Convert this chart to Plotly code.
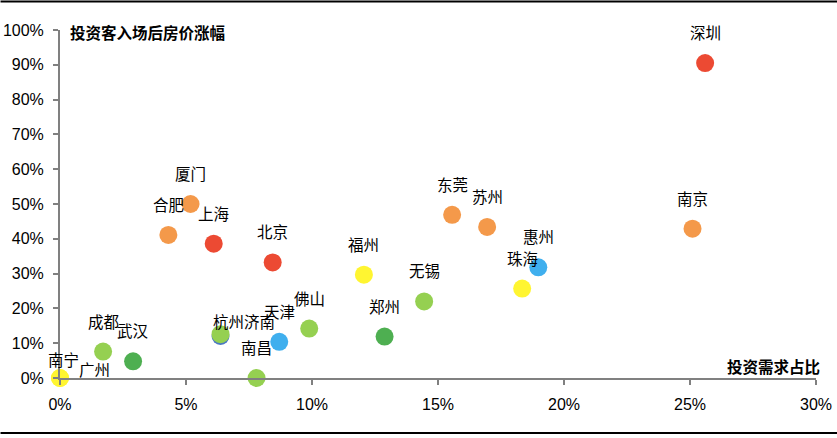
import plotly.graph_objects as go

cities = ["广州", "南宁", "深圳", "厦门", "合肥", "上海", "北京", "福州", "无锡", "郑州", "佛山", "天津",
          "南昌", "杭州", "济南", "成都", "武汉", "东莞", "苏州", "南京", "惠州", "珠海"]
invest_share = [0.0, 0.0, 25.6, 5.18, 4.3, 6.1, 8.44, 12.06, 14.45, 12.88, 9.89, 8.7,
                7.8, 6.37, 6.37, 1.71, 2.9, 15.56, 16.95, 25.1, 18.98, 18.34]
price_rise = [0.0, 0.0, 90.5, 50.0, 41.1, 38.6, 33.2, 29.7, 22.0, 11.9, 14.2, 10.4,
              0.0, 12.1, 12.6, 7.6, 4.8, 46.9, 43.4, 42.9, 31.8, 25.7]
groups = ["yellow", "yellow", "red", "orange", "orange", "red", "red", "yellow", "lgreen", "dgreen", "lgreen", "blue",
          "lgreen", "dblue", "lgreen", "lgreen", "dgreen", "orange", "orange", "orange", "blue", "yellow"]
x_ticks = [0, 5, 10, 15, 20, 25, 30]
y_ticks = [0, 10, 20, 30, 40, 50, 60, 70, 80, 90, 100]
y_title = "投资客入场后房价涨幅"
x_title = "投资需求占比"

palette = {"red": "#EC4A33", "orange": "#F4994A", "yellow": "#FFF531", "lgreen": "#95D051",
           "dgreen": "#4EAF51", "blue": "#3FAFEE", "dblue": "#4A78C2"}
# label offsets in pixels (dx, dy) relative to point
offsets = {"广州": (34, 9), "南宁": (3, 19)}

fig = go.Figure()
fig.add_trace(go.Scatter(
    x=[v / 100 for v in invest_share],
    y=[v / 100 for v in price_rise],
    mode="markers",
    marker=dict(size=18, color=[palette[g] for g in groups], line=dict(width=0)),
    cliponaxis=False,
    hoverinfo="skip",
    showlegend=False,
))

cjk = "Noto Sans CJK SC"
for c, xv, yv in zip(cities, invest_share, price_rise):
    if c == "济南":
        continue
    if c == "杭州":
        text = "杭州济南"
        dx, dy = 23, 15
    else:
        text = c
        dx, dy = offsets.get(c, (0, 31))
    fig.add_annotation(x=xv / 100, y=yv / 100, text=text, showarrow=False,
                       xshift=dx, yshift=dy, font=dict(family=cjk, size=15.5, color="#000000"))

fig.add_annotation(x=0, y=1, xref="paper", yref="paper", text="<b>" + y_title + "</b>",
                   showarrow=False, xanchor="left", yanchor="middle", xshift=8, yshift=-2,
                   font=dict(family=cjk, size=15.5, color="#000000"))
fig.add_annotation(x=1, y=0, xref="paper", yref="paper", text="<b>" + x_title + "</b>",
                   showarrow=False, xanchor="right", yanchor="middle", xshift=6, yshift=12,
                   font=dict(family=cjk, size=15.5, color="#000000"))

W, H = 837, 438
ml, mr, mt, mb = 59.5, 21.3, 30, 59.7
pw, ph = W - ml - mr, H - mt - mb
for py in (1.5, 433.3):
    yp = (H - mb - py) / ph
    fig.add_shape(type="line", xref="paper", yref="paper", x0=-ml / pw, x1=(W - ml) / pw,
                  y0=yp, y1=yp, line=dict(color="#000000", width=2))

fig.update_layout(
    width=W, height=H,
    margin=dict(l=ml, r=mr, t=mt, b=mb, pad=0, autoexpand=False),
    plot_bgcolor="white", paper_bgcolor="white",
    font=dict(family="Liberation Sans, Arial", size=16, color="#000000"),
    xaxis=dict(range=[0, 0.30], tickvals=[t / 100 for t in x_ticks],
               ticktext=[f"{t}%" for t in x_ticks], showgrid=False, zeroline=False,
               showline=True, linecolor="#808080", linewidth=2, automargin=False,
               ticks="outside", ticklen=5, tickwidth=2, tickcolor="#808080",
               ticklabelstandoff=6),
    yaxis=dict(range=[0, 1.0], tickvals=[t / 100 for t in y_ticks],
               ticktext=[f"{t}%" for t in y_ticks], showgrid=False, zeroline=False,
               showline=True, linecolor="#808080", linewidth=2, automargin=False,
               ticks="outside", ticklen=5, tickwidth=2, tickcolor="#808080",
               ticklabelstandoff=6),
)

fig.write_html("out.html", config={"displayModeBar": False},
               post_script="document.body.style.margin='0';document.body.style.overflow='hidden';")
